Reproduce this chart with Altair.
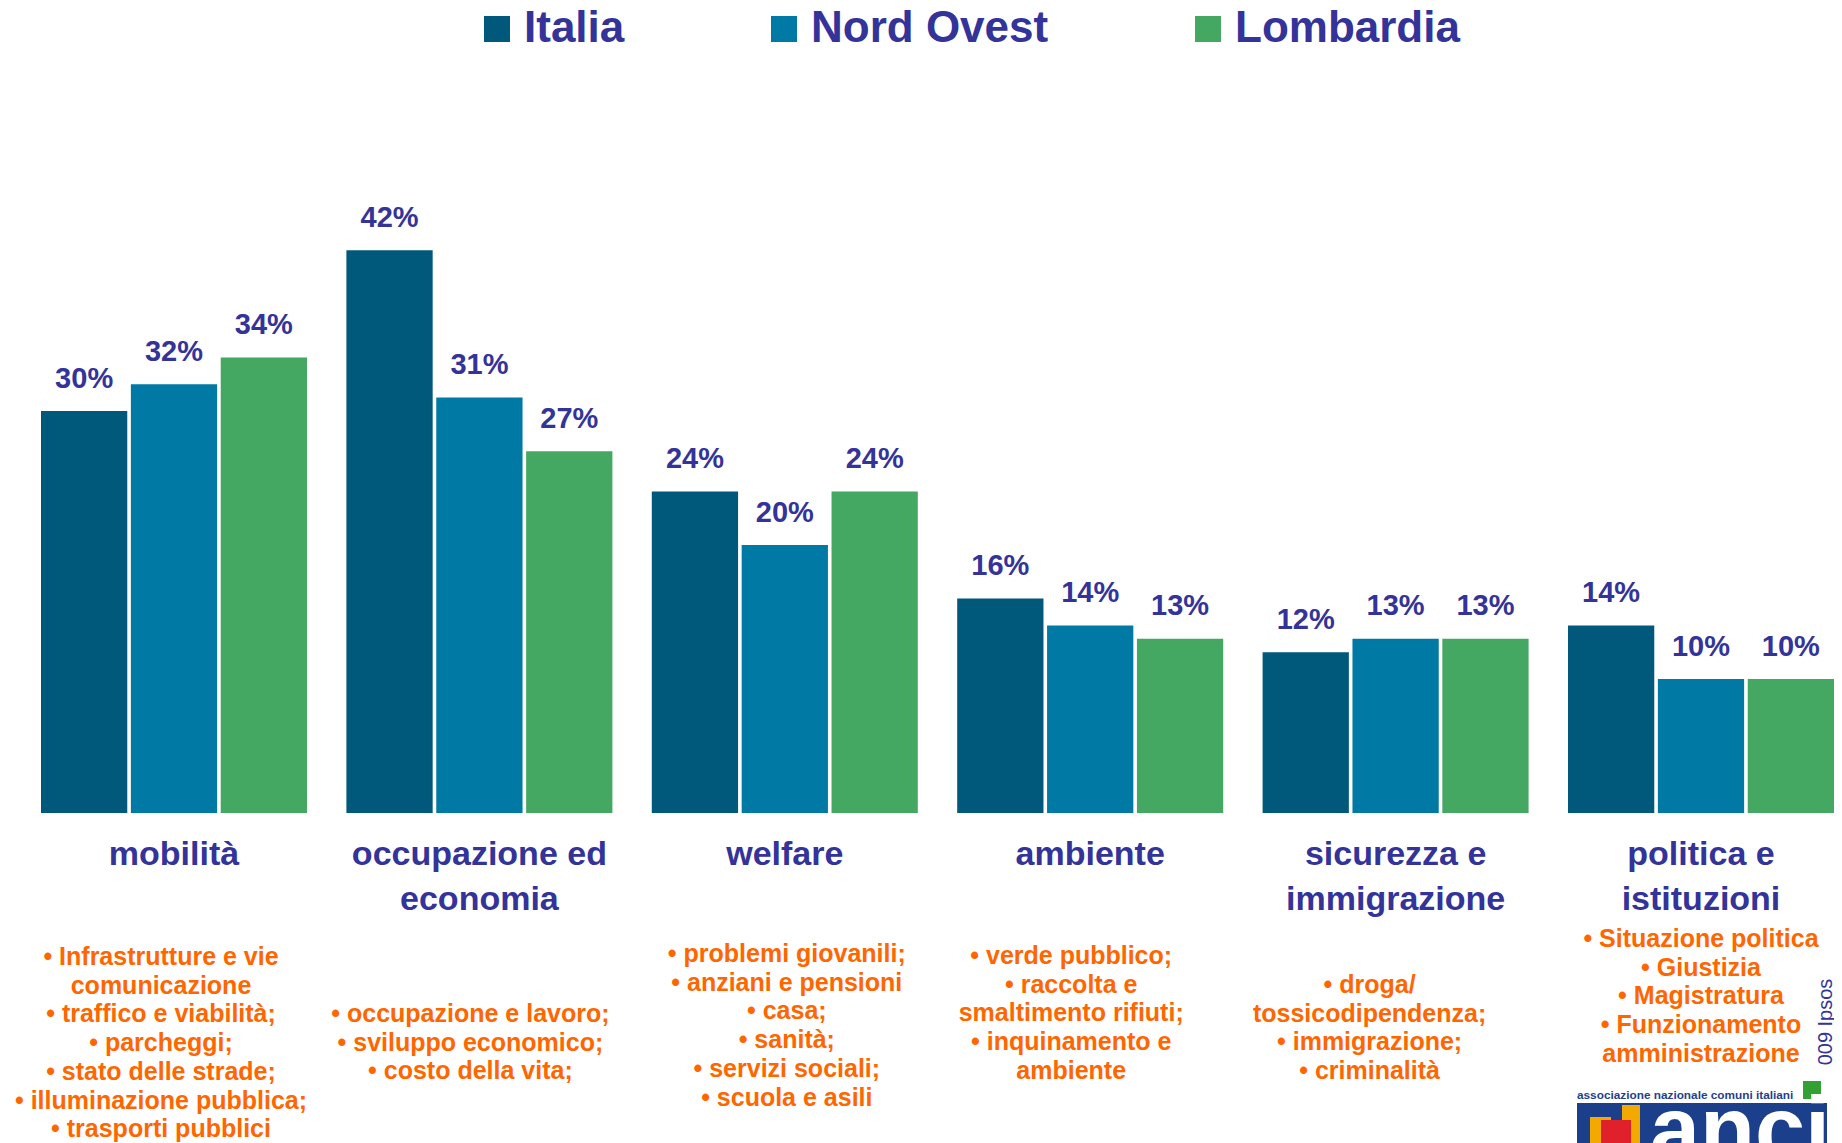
import altair as alt
import pandas as pd

# ---------------- data ----------------
categories = ["mobilità", "occupazione ed economia", "welfare", "ambiente",
              "sicurezza e immigrazione", "politica e istituzioni"]
category_lines = [["mobilità"], ["occupazione ed", "economia"], ["welfare"],
                  ["ambiente"], ["sicurezza e", "immigrazione"], ["politica e", "istituzioni"]]
series = ["Italia", "Nord Ovest", "Lombardia"]
italia = [30, 42, 24, 16, 12, 14]
nord_ovest = [32, 31, 20, 14, 13, 10]
lombardia = [34, 27, 24, 13, 13, 10]

details = [
    ["• Infrastrutture e vie", "comunicazione", "• traffico e viabilità;", "• parcheggi;",
     "• stato delle strade;", "• illuminazione pubblica;", "• trasporti pubblici"],
    ["• occupazione e lavoro;", "• sviluppo economico;", "• costo della vita;"],
    ["• problemi giovanili;", "• anziani e pensioni", "• casa;", "• sanità;",
     "• servizi sociali;", "• scuola e asili"],
    ["• verde pubblico;", "• raccolta e", "smaltimento rifiuti;", "• inquinamento e", "ambiente"],
    ["• droga/", "tossicodipendenza;", "• immigrazione;", "• criminalità"],
    ["• Situazione politica", "• Giustizia", "• Magistratura", "• Funzionamento", "amministrazione"],
]

# ---------------- styles ----------------
colors = ["#00587A", "#0079A5", "#45A862"]
BLUE = "#333399"
ORANGE = "#FF6600"
FONT = "Liberation Sans"
W, H = 1793, 603
detail_y = [755, 812, 752, 754, 783, 737]
detail_dx = [-13, -9, 2, -19, -26, 0]

rows = []
for s, vals in zip(series, [italia, nord_ovest, lombardia]):
    for c, v in zip(categories, vals):
        rows.append({"cat": c, "serie": s, "value": v, "label": f"{v}%"})
bars_df = pd.DataFrame(rows)
cat_df = pd.DataFrame({"cat": categories, "text": ["\n".join(l) for l in category_lines]})
det_df = pd.DataFrame({"cat": categories, "text": ["\n".join(l) for l in details]})

X = alt.X("cat:N", sort=categories,
          scale=alt.Scale(domain=categories, paddingInner=0.129, paddingOuter=0), axis=None)
Y = alt.Y("value:Q", scale=alt.Scale(domain=[0, 45], nice=False), axis=None)
XO = alt.XOffset("serie:N", sort=series, scale=alt.Scale(domain=series, paddingInner=0.04))

bars = alt.Chart(bars_df).mark_bar().encode(
    x=X, xOffset=XO, y=Y,
    color=alt.Color("serie:N", sort=series,
                    scale=alt.Scale(domain=series, range=colors),
                    legend=alt.Legend(orient="none", legendX=434, legendY=-203,
                                      direction="horizontal", title=None,
                                      symbolType="square", symbolSize=676,
                                      symbolStrokeWidth=0, symbolOpacity=1,
                                      labelFont=FONT, labelFontSize=44,
                                      labelFontWeight="bold", labelColor=BLUE,
                                      labelLimit=0, labelOffset=5,
                                      columnPadding=137, padding=0)),
)

bar_labels = alt.Chart(bars_df).mark_text(
    font=FONT, fontSize=29, fontWeight="bold", color=BLUE,
    baseline="alphabetic", align="center", dy=-23.5
).encode(x=X, xOffset=XO, y=Y, text="label:N")

cat_labels = alt.Chart(cat_df).mark_text(
    font=FONT, fontSize=34, fontWeight="bold", color=BLUE,
    baseline="alphabetic", align="center", lineBreak="\n", lineHeight=45
).encode(x=X, y=alt.value(655), text="text:N")

layers = [bars, bar_labels, cat_labels]
for i, c in enumerate(categories):
    layers.append(
        alt.Chart(det_df).transform_filter(alt.datum.cat == c).mark_text(
            font=FONT, fontSize=25, fontWeight="bold", color=ORANGE,
            baseline="alphabetic", align="center", lineBreak="\n",
            lineHeight=28.7, dx=detail_dx[i]
        ).encode(x=X, y=alt.value(detail_y[i]), text="text:N")
    )

one = alt.Data(values=[{"a": 1}])

def rect(x1, x2, y1, y2, col):
    return alt.Chart(one).mark_rect(color=col).encode(
        x=alt.value(x1), x2=alt.value(x2), y=alt.value(y1), y2=alt.value(y2))

# Ipsos vertical credit
layers.append(alt.Chart(one).mark_text(
    text="009 Ipsos", font=FONT, fontSize=20, color=BLUE, angle=270,
    align="center", baseline="middle").encode(x=alt.value(1785), y=alt.value(812)))

# ANCI logo (approximation)
layers.append(alt.Chart(one).mark_text(
    text="associazione nazionale comuni italiani", font=FONT, fontSize=11.8,
    fontWeight="bold", color="#1F3F8F", align="left", baseline="alphabetic"
).encode(x=alt.value(1536), y=alt.value(889)))
layers.append(rect(1762, 1780, 871, 889, "#33A033"))
layers.append(rect(1536, 1786, 893, 940, "#1C3F8C"))
layers.append(rect(1549, 1570, 907, 940, "#F2A900"))
layers.append(rect(1581, 1599, 895, 940, "#F2A900"))
layers.append(rect(1560, 1590, 910, 940, "#E0202A"))
layers.append(alt.Chart(one).mark_text(
    text="anci", font=FONT, fontSize=90, fontWeight="bold", color="white",
    align="left", baseline="alphabetic").encode(x=alt.value(1609), y=alt.value(950)))

chart = alt.layer(*layers).properties(
    width=W, height=H,
    autosize=alt.AutoSizeParams(type="none"),
    padding={"left": 33, "top": 202, "right": 0, "bottom": 330},
    background="white",
).configure_view(stroke=None)

chart.save("out.html", embed_options={"renderer": "svg", "actions": False})
